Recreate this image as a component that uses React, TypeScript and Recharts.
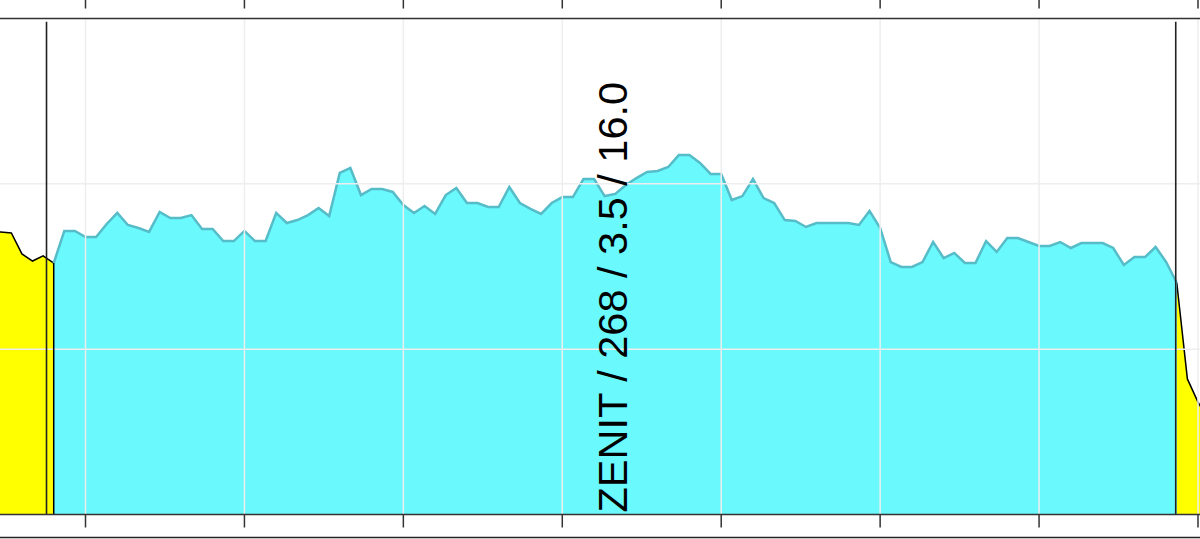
import React from "react";
import {
  AreaChart,
  Area,
  XAxis,
  YAxis,
  ReferenceLine,
} from "recharts";

// Main (cyan) series, one value per step starting at step 0
const cyanStart = 0;
const cyanValues = [
  1.521, 1.715, 1.715, 1.678, 1.678, 1.757, 1.824, 1.751, 1.733, 1.709,
  1.83, 1.793, 1.793, 1.811, 1.727, 1.727, 1.654, 1.654, 1.715, 1.654,
  1.654, 1.824, 1.763, 1.781, 1.811, 1.854, 1.805, 2.066, 2.096, 1.932,
  1.969, 1.969, 1.951, 1.872, 1.824, 1.866, 1.818, 1.932, 1.975, 1.884,
  1.884, 1.86, 1.86, 1.981, 1.884, 1.848, 1.818, 1.884, 1.92, 1.92,
  2.029, 2.029, 1.926, 1.939, 1.993, 2.035, 2.072, 2.078, 2.102, 2.174,
  2.174, 2.126, 2.06, 2.06, 1.902, 1.926, 2.029, 1.914, 1.884, 1.781,
  1.775, 1.739, 1.763, 1.763, 1.763, 1.763, 1.751, 1.836, 1.733, 1.527,
  1.497, 1.497, 1.527, 1.648, 1.551, 1.582, 1.521, 1.521, 1.654, 1.588,
  1.672, 1.672, 1.648, 1.624, 1.624, 1.648, 1.612, 1.642, 1.642, 1.642,
  1.612, 1.509, 1.557, 1.557, 1.618, 1.527, 1.4,
];

// Yellow series (before and after the main window)
const yellowLeftStart = -6;
const yellowLeftValues = [1.709, 1.709, 1.703, 1.576, 1.533, 1.564, 1.521];
const yellowRightStart = 106;
const yellowRightValues = [1.4, 0.82, 0.68, 0.572];

const xDomain: [number, number] = [-5.07, 108.19];
const xTicks = [3, 18, 33, 48, 63, 78, 93, 108];
const yDomain: [number, number] = [0, 3];
const yTicks = [0, 1, 2, 3];
const yGrid = [1, 2];
const markerLines = [-0.68, 105.9];
const markerTop = 2.98;
const bottomRuleValue = -0.139;
const labelX = 53.1;
const labelText = "ZENIT / 268 / 3.5 / 16.0";

type Row = { i: number; cyan: number | null; yellow: number | null };

const rows: Row[] = [];
const first = yellowLeftStart;
const last = yellowRightStart + yellowRightValues.length - 1;
for (let i = first; i <= last; i++) {
  const ci = i - cyanStart;
  const yl = i - yellowLeftStart;
  const yr = i - yellowRightStart;
  let yellow: number | null = null;
  if (yl >= 0 && yl < yellowLeftValues.length) yellow = yellowLeftValues[yl];
  if (yr >= 0 && yr < yellowRightValues.length) yellow = yellowRightValues[yr];
  rows.push({
    i,
    cyan: ci >= 0 && ci < cyanValues.length ? cyanValues[ci] : null,
    yellow,
  });
}

const edgeValue = yellowLeftValues[yellowLeftValues.length - 1];
const edgeX = yellowLeftStart + yellowLeftValues.length - 1;

const renderRotatedLabel = (props: any) => {
  const vb = props.viewBox || {};
  const x = (vb.x ?? 627) + 11;
  const y = (vb.y ?? 18.5) + (vb.height ?? 496) - 2;
  return (
    <text
      x={x}
      y={y}
      transform={`rotate(-90 ${x} ${y})`}
      fontFamily="'Liberation Sans', Arial, sans-serif"
      fontSize={41.5}
      fill="#000"
      textAnchor="start"
    >
      {labelText}
    </text>
  );
};

export default function App() {
  return (
    <div
      style={{
        position: "fixed",
        left: 0,
        top: 0,
        width: 1200,
        height: 539,
        background: "#ffffff",
        overflow: "hidden",
      }}
    >
      <AreaChart
        width={1200}
        height={539}
        data={rows}
        margin={{ top: 0, right: 0, bottom: 0, left: 0 }}
      >
        <XAxis
          xAxisId="t"
          orientation="top"
          type="number"
          dataKey="i"
          domain={xDomain}
          allowDataOverflow
          ticks={xTicks}
          interval={0}
          height={18.5}
          tickSize={19}
          tickFormatter={() => ""}
          axisLine={{ stroke: "#333", strokeWidth: 1.6 }}
          tickLine={{ stroke: "#333", strokeWidth: 1.5, strokeDasharray: "9 20" }}
        />
        <XAxis
          xAxisId="b"
          orientation="bottom"
          type="number"
          dataKey="i"
          domain={xDomain}
          allowDataOverflow
          ticks={xTicks}
          interval={0}
          height={24.5}
          tickSize={13}
          tickFormatter={() => ""}
          axisLine={{ stroke: "#333", strokeWidth: 1.6 }}
          tickLine={{ stroke: "#333", strokeWidth: 1.5 }}
        />
        <YAxis
          yAxisId="y"
          hide
          type="number"
          domain={yDomain}
          ticks={yTicks}
          allowDataOverflow
        />
        <Area
          xAxisId="b"
          yAxisId="y"
          type="linear"
          dataKey="yellow"
          stroke="#000"
          strokeWidth={1.5}
          fill="#ffff00"
          fillOpacity={1}
          isAnimationActive={false}
          connectNulls={false}
          dot={false}
          activeDot={false}
        />
        <Area
          xAxisId="b"
          yAxisId="y"
          type="linear"
          dataKey="cyan"
          stroke="#56bcc8"
          strokeWidth={2.5}
          fill="#6af9fd"
          fillOpacity={1}
          isAnimationActive={false}
          connectNulls={false}
          dot={false}
          activeDot={false}
        />
        {xTicks.map((t) => (
          <ReferenceLine
            key={`gx${t}`}
            xAxisId="b"
            yAxisId="y"
            x={t}
            stroke="#eeeeee"
            strokeWidth={1.5}
          />
        ))}
        {yGrid.map((t) => (
          <ReferenceLine
            key={`gy${t}`}
            xAxisId="b"
            yAxisId="y"
            y={t}
            stroke="#eeeeee"
            strokeWidth={1.5}
          />
        ))}
        <ReferenceLine
          xAxisId="b"
          yAxisId="y"
          segment={[
            { x: edgeX, y: 0 },
            { x: edgeX, y: edgeValue },
          ]}
          stroke="#000"
          strokeWidth={1.5}
        />
        {markerLines.map((m) => (
          <ReferenceLine
            key={`m${m}`}
            xAxisId="b"
            yAxisId="y"
            segment={[
              { x: m, y: 0 },
              { x: m, y: markerTop },
            ]}
            stroke="#222"
            strokeWidth={1.6}
          />
        ))}
        <ReferenceLine
          xAxisId="b"
          yAxisId="y"
          y={bottomRuleValue}
          ifOverflow="visible"
          stroke="#222"
          strokeWidth={1.6}
        />
        <ReferenceLine
          xAxisId="b"
          yAxisId="y"
          x={labelX}
          stroke="none"
          label={{ content: renderRotatedLabel }}
        />
      </AreaChart>
    </div>
  );
}
